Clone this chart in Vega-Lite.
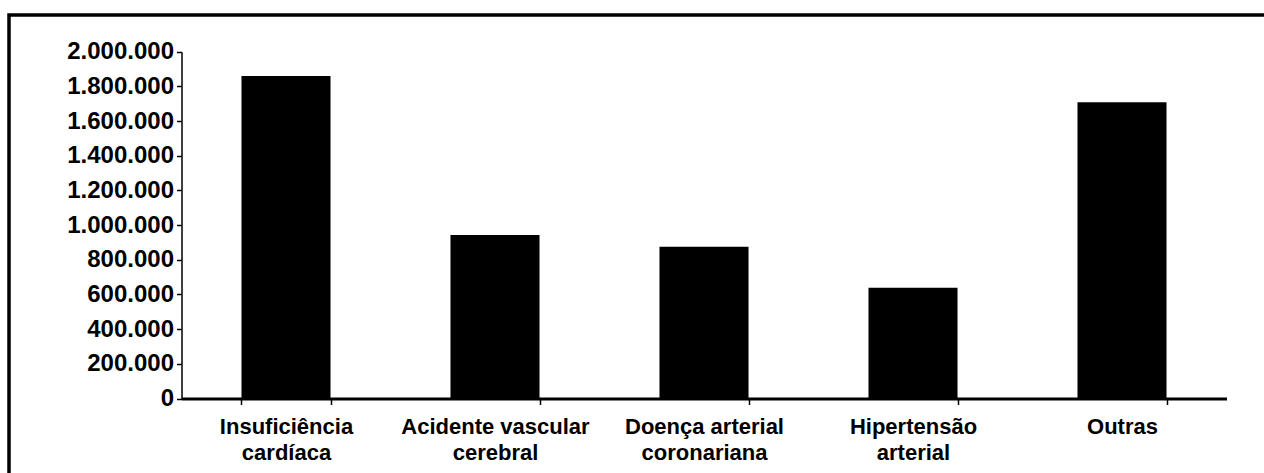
{
  "$schema": "https://vega.github.io/schema/vega-lite/v6.json",
  "autosize": "none",
  "padding": {"left": 9, "top": 15, "right": 0, "bottom": 0},
  "width": 1275,
  "height": 478,
  "background": "white",
  "data": {
    "values": [
      {"causa": "Insuficiência|cardíaca", "valor": 1860000},
      {"causa": "Acidente vascular|cerebral", "valor": 943000},
      {"causa": "Doença arterial|coronariana", "valor": 875000},
      {"causa": "Hipertensão|arterial", "valor": 639000},
      {"causa": "Outras", "valor": 1708000}
    ]
  },
  "mark": {"type": "bar", "color": "black"},
  "encoding": {
    "x": {
      "field": "causa",
      "type": "nominal",
      "sort": null,
      "scale": {"range": [172.5, 1217.5], "paddingInner": 0.574, "paddingOuter": 0.287},
      "axis": {
        "title": null,
        "orient": "bottom",
        "offset": -94.5,
        "labelAngle": 0,
        "labelExpr": "split(datum.label, '|')",
        "labelLineHeight": 26,
        "labelFont": "Liberation Sans",
        "labelFontWeight": "bold",
        "labelFontSize": 22,
        "labelColor": "black",
        "labelPadding": 12,
        "labelLimit": 300,
        "tickBand": "extent",
        "tickSize": 6,
        "tickColor": "black",
        "tickWidth": 1.5,
        "domainColor": "black",
        "domainWidth": 3,
        "grid": false
      }
    },
    "y": {
      "field": "valor",
      "type": "quantitative",
      "scale": {"domain": [0, 2000000], "range": [383.5, 36.7], "nice": false, "zero": true},
      "axis": {
        "title": null,
        "offset": -172.5,
        "values": [0, 200000, 400000, 600000, 800000, 1000000, 1200000, 1400000, 1600000, 1800000, 2000000],
        "format": ",d",
        "labelFont": "Liberation Sans",
        "labelFontWeight": "bold",
        "labelFontSize": 24,
        "labelColor": "black",
        "labelPadding": 3,
        "tickSize": 5,
        "tickColor": "black",
        "tickWidth": 1.5,
        "domainColor": "black",
        "domainWidth": 1.5,
        "grid": false
      }
    }
  },
  "config": {
    "locale": {"number": {"decimal": ",", "thousands": ".", "grouping": [3], "currency": ["R$", ""]}},
    "view": {"stroke": "black", "strokeWidth": 3.5}
  }
}
